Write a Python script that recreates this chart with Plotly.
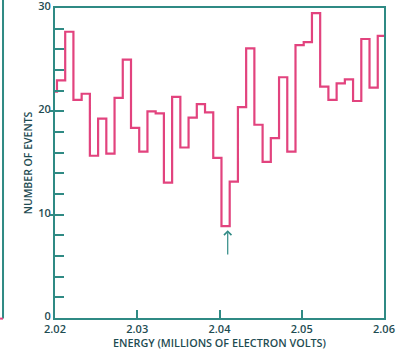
import plotly.graph_objects as go

# ---- data ----
x_start = 2.02
x_end = 2.06
first_edge = 2.02024        # first full bin edge
bin_width = 0.001
first_partial = 21.9        # short piece before first full bin
bin_counts = [23.0, 27.7, 21.1, 21.7, 15.7, 19.3, 15.9, 21.3, 25.0, 18.4,
              16.1, 20.0, 19.8, 13.1, 21.4, 16.5, 19.4, 20.7, 19.9, 15.5,
              8.9, 13.2, 20.4, 26.1, 18.7, 15.1, 17.4, 23.3, 16.1, 26.4,
              26.7, 29.5, 22.4, 21.1, 22.7, 23.1, 21.0, 27.0, 22.3]
last_partial = 27.3
x_ticks = [2.02, 2.03, 2.04, 2.05, 2.06]
x_tick_labels = ["2.02", "2.03", "2.04", "2.05", "2.06"]
y_ticks = [0, 10, 20, 30]
arrow_x = 2.0410
arrow_tip = 8.5
arrow_tail = 6.0

edges = [first_edge + i * bin_width for i in range(len(bin_counts) + 1)]
xs = [x_start] + edges + [x_end]
ys = [first_partial] + bin_counts + [last_partial, last_partial]

PINK = "#e2437e"
TEAL = "#2f8a84"
TEXT = "#1e4c52"

fig = go.Figure()
fig.add_trace(go.Scatter(x=xs, y=ys, mode="lines", line_shape="hv",
                         line=dict(color=PINK, width=2.2), showlegend=False,
                         hoverinfo="skip"))
# outward stubs for major y ticks
fig.add_trace(go.Scatter(x=[None], y=[None], yaxis="y2", showlegend=False))

fig.add_annotation(x=arrow_x, y=arrow_tip, ax=arrow_x, ay=arrow_tail,
                   xref="x", yref="y", axref="x", ayref="y",
                   showarrow=True, arrowhead=4, arrowsize=1.2, arrowwidth=1.2,
                   arrowcolor=TEAL, text="")

font = dict(family="Open Sans", size=11, color=TEXT, weight=600)
fig.update_layout(
    width=403, height=350, autosize=False,
    margin=dict(l=55, r=19, t=8, b=32, pad=0),
    plot_bgcolor="white", paper_bgcolor="white",
    font=font,
    xaxis=dict(range=[x_start, x_end], tickvals=x_ticks, ticktext=x_tick_labels,
               ticks="inside", ticklen=8, tickwidth=1.5, tickcolor=TEAL,
               showline=True, linecolor=TEAL, linewidth=2, mirror=True,
               showgrid=False, zeroline=False, automargin=False,
               ticklabeloverflow="allow",
               title=dict(text="ENERGY (MILLIONS OF ELECTRON VOLTS)",
                          font=dict(size=10.8, color=TEXT), standoff=2),
               tickfont=dict(size=11)),
    yaxis=dict(range=[0, 30], tickvals=y_ticks,
               ticks="inside", ticklen=9, tickwidth=1.5, tickcolor=TEAL,
               minor=dict(dtick=2, ticks="inside", ticklen=9, tickwidth=1.5,
                          tickcolor=TEAL),
               showline=True, linecolor=TEAL, linewidth=2, mirror=True,
               showgrid=False, zeroline=False, automargin=False,
               ticklabeloverflow="allow", ticklabelshift=-2,
               title=dict(text="NUMBER OF EVENTS",
                          font=dict(size=10.5, color=TEXT), standoff=4),
               tickfont=dict(size=11)),
    yaxis2=dict(range=[0, 30], overlaying="y", side="left", tickvals=[10, 20],
                ticks="outside", ticklen=4, tickwidth=1.5, tickcolor=TEAL,
                showticklabels=False, showgrid=False, zeroline=False,
                showline=False, automargin=False),
    shapes=[dict(type="line", xref="paper", yref="paper",
                 x0=-0.158, x1=-0.158, y0=-0.002, y1=1.03,
                 line=dict(color=TEAL, width=2)),
            dict(type="line", xref="paper", yref="paper",
                 x0=-0.167, x1=-0.158, y0=-0.002, y1=-0.002,
                 line=dict(color=PINK, width=2))],
)

fig.write_html("out.html", config={"displayModeBar": False},
               post_script="document.body.style.margin='0';document.body.style.overflow='hidden';")
